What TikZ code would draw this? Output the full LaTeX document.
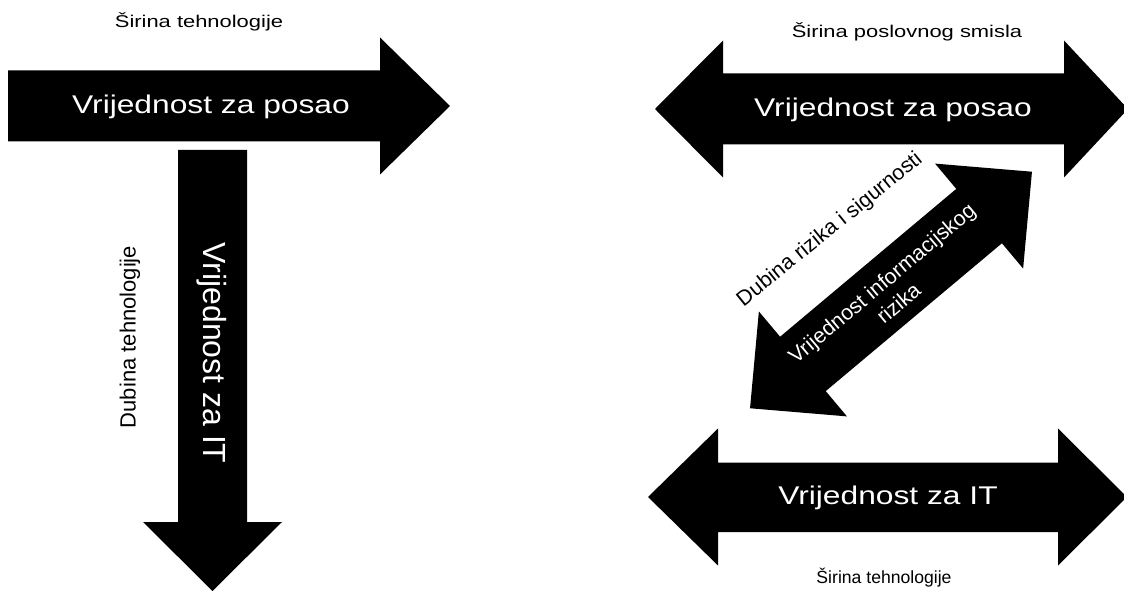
\documentclass[tikz,border=0pt]{standalone}
\usepackage{fontspec}
\setmainfont{Liberation Sans}
\usepackage{graphicx}
\begin{document}
\begin{tikzpicture}[x=0.75pt,y=-0.75pt,
  blockarrow/.style={fill=black,draw=none},
  bigtxt/.style={text=white,inner sep=0pt,font=\fontsize{19.2}{23}\selectfont},
  vbigtxt/.style={text=white,inner sep=0pt,font=\fontsize{24}{28}\selectfont},
  smalltxt/.style={text=black,inner sep=0pt,font=\fontsize{12.75}{15}\selectfont},
  vsmalltxt/.style={text=black,inner sep=0pt,font=\fontsize{16.5}{19}\selectfont},
  diagtxt/.style={inner sep=0pt,font=\fontsize{16}{19.5}\selectfont,align=center}]
\useasboundingbox (0,0) rectangle (1124,591);
\clip (0,0) rectangle (1124,591);

% left: horizontal arrow
\fill[blockarrow] (8,70.5) -- (380,70.5) -- (380,37.5) -- (450,106) -- (380,174.5) -- (380,141.5) -- (8,141.5) -- cycle;
% left: vertical arrow
\fill[blockarrow] (178,150) -- (247,150) -- (247,522) -- (282,522) -- (212.5,591) -- (143,522) -- (178,522) -- cycle;
% right top double arrow
\fill[blockarrow] (655,109) -- (723,40.5) -- (723,73.5) -- (1064,73.5) -- (1064,40.5) -- (1128,109) -- (1064,177.5) -- (1064,144.5) -- (723,144.5) -- (723,177.5) -- cycle;
% right bottom double arrow
\fill[blockarrow] (648,497) -- (718,428.5) -- (718,462.5) -- (1058,462.5) -- (1058,428.5) -- (1127,497) -- (1058,565.5) -- (1058,532) -- (718,532) -- (718,565.5) -- cycle;
% diagonal double arrow
\begin{scope}[shift={(891,290)},rotate=40]
\fill[blockarrow] (-184,0) -- (-115,-68.5) -- (-115,-35.5) -- (115,-35.5) -- (115,-68.5) -- (184,0) -- (115,68.5) -- (115,35.5) -- (-115,35.5) -- (-115,68.5) -- cycle;
\end{scope}

% texts
\node[smalltxt] (t1) at (199,22) {\scalebox{1.29}[1]{Širina tehnologije}};
\node[bigtxt] (t2) at (211,107) {\scalebox{1.24}[1]{Vrijednost za posao}};
\node[vsmalltxt,rotate=90] (t3) at (130,337) {Dubina tehnologije};
\node[vbigtxt,rotate=-90] (t4) at (212,353) {Vrijednost za IT};
\node[smalltxt] (t5) at (907,32) {\scalebox{1.29}[1]{Širina poslovnog smisla}};
\node[bigtxt] (t6) at (893,110) {\scalebox{1.24}[1]{Vrijednost za posao}};
\node[bigtxt] (t7) at (888,498) {\scalebox{1.24}[1]{Vrijednost za IT}};
\node[smalltxt,font=\fontsize{13.2}{16}\selectfont] (t8) at (884,578) {Širina tehnologije};
\node[diagtxt,text=black,rotate=39] (t9) at (830,230) {Dubina rizika i sigurnosti};
\node[diagtxt,text=white,rotate=40] (t10) at (890,293) {Vrijednost informacijskog\\rizika};
\end{tikzpicture}
\end{document}
